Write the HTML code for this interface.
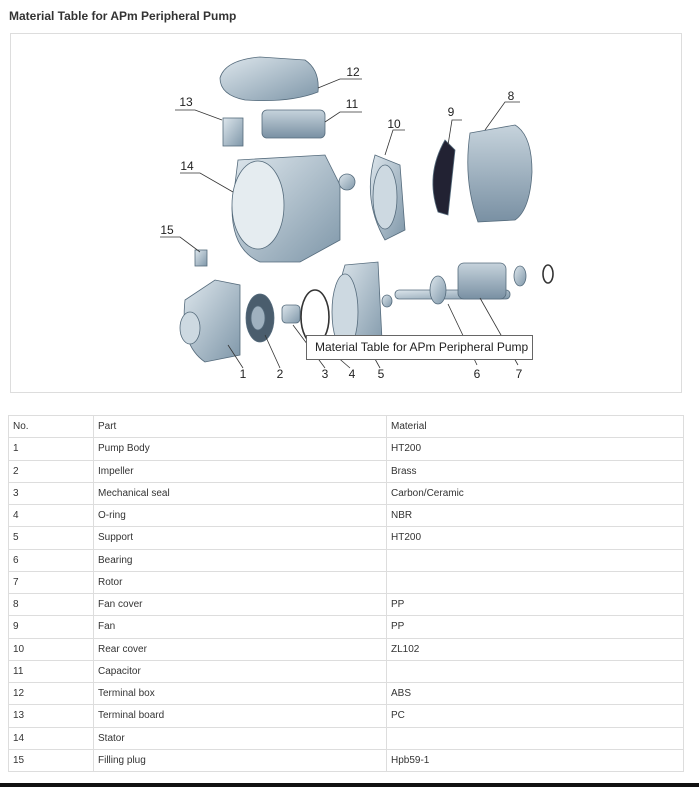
<!DOCTYPE html>
<html><head><meta charset="utf-8"><style>
body{margin:0;width:699px;height:787px;background:#fff;font-family:"Liberation Sans",Arial,sans-serif;position:relative;overflow:hidden}
.t{position:absolute;left:9px;top:9px;font-size:12px;font-weight:bold;color:#333}
.box{position:absolute;left:10px;top:33px;width:672px;height:360px;border:1px solid #ddd;box-sizing:border-box}
table{position:absolute;left:8px;top:415px;width:676px;height:356px;border-collapse:collapse;font-size:10px;color:#333}
tr{height:22.25px}
td{border:1px solid #ddd;padding:0 0 0 4px}
.bar{position:absolute;left:0;top:783px;width:699px;height:4px;background:#111}
.tip{position:absolute;left:306px;top:335px;width:227px;height:25px;border:1px solid #666;background:#fff;box-sizing:border-box;font-size:12px;color:#222;line-height:23px;padding-left:8px;white-space:nowrap;overflow:hidden}
</style></head><body>
<div class="t">Material Table for APm Peripheral Pump</div>
<div class="box"></div>
<svg style="position:absolute;left:0;top:0" width="699" height="400">
<defs><linearGradient id="g" x1="0" y1="0" x2="1" y2="1"><stop offset="0" stop-color="#dde6ec"/><stop offset="1" stop-color="#7f97a9"/></linearGradient>
<linearGradient id="h" x1="0" y1="0" x2="0" y2="1"><stop offset="0" stop-color="#c6d3dc"/><stop offset="1" stop-color="#7990a3"/></linearGradient></defs>
<g fill="url(#g)" stroke="#556b7c" stroke-width="0.8">
<path d="M220 78 Q225 60 260 57 L305 60 Q320 70 318 92 Q290 103 245 100 Q220 95 220 78Z"/>
<rect x="223" y="118" width="20" height="28"/>
<rect x="262" y="110" width="63" height="28" rx="5" fill="url(#h)"/>
<path d="M238 160 L325 155 L340 185 L340 240 L300 262 L260 262 Q232 250 232 208Z"/>
<ellipse cx="258" cy="205" rx="26" ry="44" fill="#e5ecf0"/>
<rect x="195" y="250" width="12" height="16"/>
<path d="M185 300 L215 280 L240 285 L240 355 L205 362 Q180 345 185 300Z"/>
<ellipse cx="190" cy="328" rx="10" ry="16" fill="#cdd9e1"/>
<ellipse cx="260" cy="318" rx="14" ry="24" fill="#4a5d6d"/>
<ellipse cx="258" cy="318" rx="7" ry="12" fill="#9fb1bf"/>
<rect x="282" y="305" width="18" height="18" rx="4"/>
<path d="M345 265 L378 262 L382 340 L345 355 Q328 320 345 265Z"/>
<ellipse cx="345" cy="312" rx="13" ry="38" fill="#cdd9e1"/>
<ellipse cx="315" cy="317" rx="14" ry="27" fill="none" stroke="#333" stroke-width="1.6"/>
<ellipse cx="387" cy="301" rx="5" ry="6"/>
<path d="M375 155 L400 165 L405 230 L385 240 Q362 200 375 155Z"/>
<ellipse cx="385" cy="197" rx="12" ry="32" fill="#cdd9e1"/>
<path d="M445 140 L455 150 L448 215 L438 212 Q425 175 445 140Z" fill="#223"/>
<path d="M470 133 L515 125 Q532 135 532 172 Q530 210 515 220 L478 222 Q463 180 470 133Z" fill="url(#h)"/>
<ellipse cx="347" cy="182" rx="8" ry="8"/>
<rect x="395" y="290" width="115" height="9" rx="4"/>
<rect x="458" y="263" width="48" height="36" rx="6" fill="url(#h)"/>
<ellipse cx="438" cy="290" rx="8" ry="14"/>
<ellipse cx="520" cy="276" rx="6" ry="10"/>
<ellipse cx="548" cy="274" rx="5" ry="9" fill="none" stroke="#333" stroke-width="1.6"/>
</g>
<g stroke="#333" stroke-width="0.8" fill="none">
<path d="M318 88 L340 79 L362 79"/><path d="M325 122 L340 112 L362 112"/><path d="M222 120 L195 110 L175 110"/>
<path d="M233 192 L200 173 L180 173"/><path d="M200 252 L180 237 L160 237"/>
<path d="M228 345 L243 368"/><path d="M265 335 L280 368"/><path d="M293 325 L325 368"/><path d="M320 342 L350 368"/><path d="M370 350 L380 368"/>
<path d="M448 304 L477 365"/><path d="M480 298 L518 365"/>
<path d="M385 155 L393 130 L405 130"/><path d="M448 145 L452 120 L462 120"/><path d="M485 130 L505 102 L520 102"/>
</g>
<g font-size="12" fill="#222" text-anchor="middle">
<text x="353" y="76">12</text><text x="352" y="108">11</text><text x="186" y="106">13</text><text x="187" y="170">14</text><text x="167" y="234">15</text>
<text x="243" y="378">1</text><text x="280" y="378">2</text><text x="325" y="378">3</text><text x="352" y="378">4</text><text x="381" y="378">5</text><text x="477" y="378">6</text><text x="519" y="378">7</text>
<text x="394" y="128">10</text><text x="451" y="116">9</text><text x="511" y="100">8</text>
</g>
</svg>
<div class="tip">Material Table for APm Peripheral Pump</div>
<table>
<colgroup><col style="width:85px"><col style="width:293px"><col></colgroup>
<tr><td>No.</td><td>Part</td><td>Material</td></tr>
<tr><td>1</td><td>Pump Body</td><td>HT200</td></tr>
<tr><td>2</td><td>Impeller</td><td>Brass</td></tr>
<tr><td>3</td><td>Mechanical seal</td><td>Carbon/Ceramic</td></tr>
<tr><td>4</td><td>O-ring</td><td>NBR</td></tr>
<tr><td>5</td><td>Support</td><td>HT200</td></tr>
<tr><td>6</td><td>Bearing</td><td></td></tr>
<tr><td>7</td><td>Rotor</td><td></td></tr>
<tr><td>8</td><td>Fan cover</td><td>PP</td></tr>
<tr><td>9</td><td>Fan</td><td>PP</td></tr>
<tr><td>10</td><td>Rear cover</td><td>ZL102</td></tr>
<tr><td>11</td><td>Capacitor</td><td></td></tr>
<tr><td>12</td><td>Terminal box</td><td>ABS</td></tr>
<tr><td>13</td><td>Terminal board</td><td>PC</td></tr>
<tr><td>14</td><td>Stator</td><td></td></tr>
<tr><td>15</td><td>Filling plug</td><td>Hpb59-1</td></tr>
</table>
<div class="bar"></div>
</body></html>
